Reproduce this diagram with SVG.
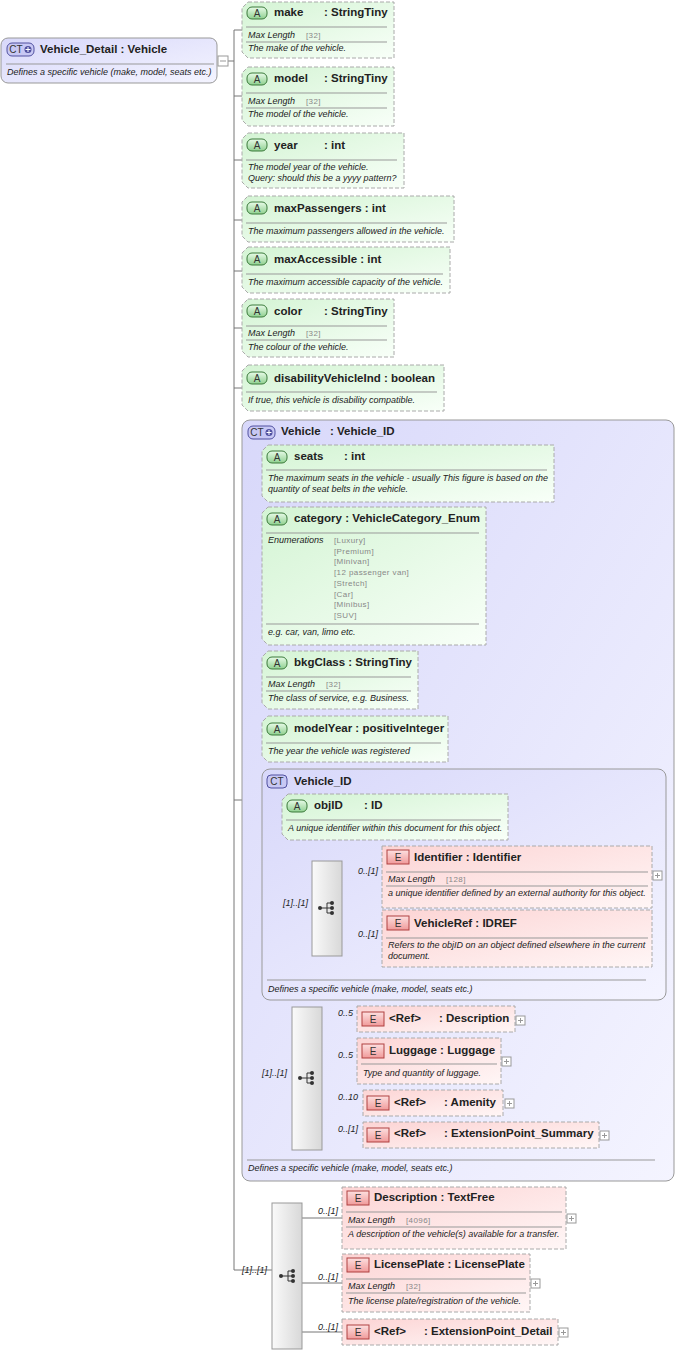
<svg xmlns="http://www.w3.org/2000/svg" width="679" height="1353" viewBox="0 0 679 1353">
<defs>
<linearGradient id="gA" x1="0" y1="0" x2="1" y2="1"><stop offset="0" stop-color="#d4f4d4"/><stop offset="1" stop-color="#f8fff8"/></linearGradient>
<linearGradient id="gE" x1="0" y1="0" x2="1" y2="1"><stop offset="0" stop-color="#fcd4d4"/><stop offset="1" stop-color="#fff6f6"/></linearGradient>
<linearGradient id="gC" x1="0" y1="0" x2="1" y2="1"><stop offset="0" stop-color="#d8d8fa"/><stop offset="1" stop-color="#f4f4ff"/></linearGradient>
<linearGradient id="gS" x1="0" y1="0" x2="1" y2="0"><stop offset="0" stop-color="#fafafa"/><stop offset="1" stop-color="#d8d8d8"/></linearGradient>
<linearGradient id="gB" x1="0" y1="0" x2="0" y2="1"><stop offset="0" stop-color="#e8fbe8"/><stop offset="1" stop-color="#8fd08f"/></linearGradient>
<linearGradient id="gBE" x1="0" y1="0" x2="0" y2="1"><stop offset="0" stop-color="#fde0e0"/><stop offset="1" stop-color="#f09a9a"/></linearGradient>
<g id="seqIcon"><line x1="-7" y1="0" x2="0" y2="0" stroke="#333"/><line x1="0" y1="-5" x2="0" y2="5" stroke="#333"/><line x1="0" y1="-5" x2="5" y2="-5" stroke="#333"/><line x1="0" y1="0" x2="5" y2="0" stroke="#333"/><line x1="0" y1="5" x2="5" y2="5" stroke="#333"/><circle cx="-7" cy="0" r="2" fill="#333"/><circle cx="5" cy="-5" r="2" fill="#333"/><circle cx="5" cy="0" r="2" fill="#333"/><circle cx="5" cy="5" r="2" fill="#333"/></g>
<g id="plus"><rect x="0" y="0" width="9" height="9" fill="#fff" stroke="#999"/><path d="M2 4.5H7M4.5 2V7" stroke="#999"/></g>
<g id="bA"><rect x="0" y="0" width="20" height="12" rx="5" fill="url(#gB)" stroke="#3a7a3a"/><text x="10" y="10" class="badge" text-anchor="middle">A</text></g>
<g id="bE"><rect x="0" y="0" width="22" height="14" fill="url(#gBE)" stroke="#b04040"/><text x="11" y="11" class="badge" text-anchor="middle">E</text></g>
<g id="bCT"><rect x="0" y="0" width="27" height="13" rx="5" fill="#c8c8f4" stroke="#5050a0"/><text x="9" y="10" class="badge" text-anchor="middle">CT</text><circle cx="21" cy="6.5" r="3.5" fill="#5050a0"/><path d="M18.5 6.5h5M21 4v5" stroke="#fff"/></g>
</defs>
<style>
text{font-family:"Liberation Sans",Arial,sans-serif;fill:#222}
.t{font-size:11.5px;font-weight:bold}
.d{font-size:9px;font-style:italic}
.k{font-size:9px;font-style:italic}
.v{font-size:8px;fill:#888;letter-spacing:0.4px}
.badge{font-size:10px;fill:#333}
.m{font-size:9px;font-style:italic}
.attr{fill:url(#gA);stroke:#aaa;stroke-dasharray:4 2}
.el{fill:url(#gE);stroke:#aaa;stroke-dasharray:4 2}
.sep{stroke:#999}
.ln{stroke:#777;fill:none}
.seq{fill:url(#gS);stroke:#999}
</style>

<g id="connectors" class="ln">
<path d="M228 61H234M234 30V1270M234 30H242M234 96H242M234 160H242M234 220H242M234 271H242M234 328H242M234 388H242M234 800H242M234 1270H272"/>
<path d="M252 474V1078M252 474H262M252 577H262M252 686H262M252 740H262M252 884H262M252 1078H292"/>
<path d="M262 884H272M272 817V908M272 817H282M272 908H312M342 875H382M342 940H382"/>
<path d="M322 1020H357M322 1061H357M322 1103H363M322 1135H363"/>
<path d="M302 1218H342M302 1283H342M302 1332H342"/>
</g>

<g id="root">
<rect x="1" y="38" width="216" height="45" rx="7" fill="url(#gC)" stroke="#999"/>
<use href="#bCT" x="7" y="43"/>
<text x="40" y="53" class="t">Vehicle_Detail : Vehicle</text>
<line x1="6" y1="64" x2="214" y2="64" class="sep"/>
<text x="7" y="75" class="d">Defines a specific vehicle (make, model, seats etc.)</text>
<rect x="218" y="56" width="10" height="10" fill="#fff" stroke="#999"/><path d="M220 61H226" stroke="#999"/>
</g>

<g id="make"><path class="attr" d="M248 2H394V58H248L242 52V8Z"/><use href="#bA" x="247" y="7"/><text x="274" y="16" class="t">make</text><text x="324" y="16" class="t">: StringTiny</text><line x1="246" y1="27" x2="387" y2="27" class="sep"/><text x="248" y="38" class="k">Max Length</text><text x="306" y="38" class="v">[32]</text><line x1="246" y1="42" x2="387" y2="42" class="sep"/><text x="248" y="51" class="d">The make of the vehicle.</text></g>

<g id="model"><path class="attr" d="M248 67H394V126H248L242 120V73Z"/><use href="#bA" x="247" y="73"/><text x="274" y="82" class="t">model</text><text x="324" y="82" class="t">: StringTiny</text><line x1="246" y1="93" x2="387" y2="93" class="sep"/><text x="248" y="104" class="k">Max Length</text><text x="306" y="104" class="v">[32]</text><line x1="246" y1="108" x2="387" y2="108" class="sep"/><text x="248" y="117" class="d">The model of the vehicle.</text></g>

<g id="year"><path class="attr" d="M248 133H404V188H248L242 182V139Z"/><use href="#bA" x="247" y="139"/><text x="274" y="149" class="t">year</text><text x="324" y="149" class="t">: int</text><line x1="246" y1="160" x2="397" y2="160" class="sep"/><text x="248" y="170" class="d">The model year of the vehicle.</text><text x="248" y="181" class="d">Query: should this be a yyyy pattern?</text></g>

<g id="maxPassengers"><path class="attr" d="M248 196H454V242H248L242 236V202Z"/><use href="#bA" x="247" y="202"/><text x="274" y="212" class="t">maxPassengers : int</text><line x1="246" y1="223" x2="447" y2="223" class="sep"/><text x="248" y="234" class="d">The maximum passengers allowed in  the vehicle.</text></g>

<g id="maxAccessible"><path class="attr" d="M248 247H450V293H248L242 287V253Z"/><use href="#bA" x="247" y="253"/><text x="274" y="263" class="t">maxAccessible : int</text><line x1="246" y1="274" x2="443" y2="274" class="sep"/><text x="248" y="285" class="d">The maximum accessible capacity of the vehicle.</text></g>

<g id="color"><path class="attr" d="M248 299H394V357H248L242 351V305Z"/><use href="#bA" x="247" y="305"/><text x="274" y="315" class="t">color</text><text x="324" y="315" class="t">: StringTiny</text><line x1="246" y1="326" x2="387" y2="326" class="sep"/><text x="248" y="336" class="k">Max Length</text><text x="306" y="336" class="v">[32]</text><line x1="246" y1="340" x2="387" y2="340" class="sep"/><text x="248" y="350" class="d">The colour of the vehicle.</text></g>

<g id="disabilityVehicleInd"><path class="attr" d="M248 365H444V411H248L242 405V371Z"/><use href="#bA" x="247" y="372"/><text x="274" y="382" class="t">disabilityVehicleInd : boolean</text><line x1="246" y1="392" x2="437" y2="392" class="sep"/><text x="248" y="403" class="d">If true, this vehicle is disability compatible.</text></g>

<g id="Vehicle">
<rect x="242" y="420" width="432" height="761" rx="8" fill="url(#gC)" stroke="#999"/>
<use href="#bCT" x="248" y="426"/>
<text x="281" y="435" class="t">Vehicle</text><text x="330" y="435" class="t">: Vehicle_ID</text>
<line x1="247" y1="1160" x2="655" y2="1160" class="sep"/>
<text x="248" y="1171" class="d">Defines a specific vehicle (make, model, seats etc.)</text>
</g>

<g id="seats"><path class="attr" d="M268 445H554V502H268L262 496V451Z"/><use href="#bA" x="267" y="451"/><text x="294" y="460" class="t">seats</text><text x="344" y="460" class="t">: int</text><line x1="266" y1="470" x2="547" y2="470" class="sep"/><text x="268" y="481" class="d">The maximum seats in the vehicle - usually This figure is based on the</text><text x="268" y="492" class="d">quantity of seat belts in the vehicle.</text></g>

<g id="category"><path class="attr" d="M268 507H486V645H268L262 639V513Z"/><use href="#bA" x="267" y="513"/><text x="294" y="522" class="t">category : VehicleCategory_Enum</text><line x1="266" y1="533" x2="479" y2="533" class="sep"/><text x="268" y="543" class="k">Enumerations</text>
<text x="334" y="543" class="v">[Luxury]</text><text x="334" y="554" class="v">[Premium]</text><text x="334" y="564" class="v">[Minivan]</text><text x="334" y="575" class="v">[12 passenger van]</text><text x="334" y="586" class="v">[Stretch]</text><text x="334" y="597" class="v">[Car]</text><text x="334" y="607" class="v">[Minibus]</text><text x="334" y="618" class="v">[SUV]</text>
<line x1="266" y1="624" x2="479" y2="624" class="sep"/><text x="268" y="635" class="d">e.g. car, van, limo etc.</text></g>

<g id="bkgClass"><path class="attr" d="M268 651H418V709H268L262 703V657Z"/><use href="#bA" x="267" y="657"/><text x="294" y="666" class="t">bkgClass : StringTiny</text><line x1="266" y1="677" x2="411" y2="677" class="sep"/><text x="268" y="687" class="k">Max Length</text><text x="326" y="687" class="v">[32]</text><line x1="266" y1="691" x2="411" y2="691" class="sep"/><text x="268" y="701" class="d">The class of service, e.g. Business.</text></g>

<g id="modelYear"><path class="attr" d="M268 716H448V762H268L262 756V722Z"/><use href="#bA" x="267" y="723"/><text x="294" y="732" class="t">modelYear : positiveInteger</text><line x1="266" y1="743" x2="441" y2="743" class="sep"/><text x="268" y="754" class="d">The year the vehicle was registered</text></g>

<g id="Vehicle_ID">
<rect x="262" y="769" width="404" height="231" rx="8" fill="url(#gC)" stroke="#999"/>
<rect x="267" y="775" width="20" height="13" rx="4" fill="#c8c8f4" stroke="#5050a0"/><text x="277" y="785" class="badge" text-anchor="middle">CT</text>
<text x="294" y="785" class="t">Vehicle_ID</text>
<line x1="267" y1="980" x2="646" y2="980" class="sep"/>
<text x="268" y="992" class="d">Defines a specific vehicle (make, model, seats etc.)</text>
</g>

<g id="objID"><path class="attr" d="M288 794H508V840H288L282 834V800Z"/><use href="#bA" x="287" y="800"/><text x="314" y="809" class="t">objID</text><text x="364" y="809" class="t">: ID</text><line x1="286" y1="820" x2="501" y2="820" class="sep"/><text x="288" y="831" class="d">A unique identifier within this document for this object.</text></g>

<g id="seq1"><rect x="312" y="861" width="30" height="95" class="seq"/><use href="#seqIcon" x="327" y="908"/><text x="283" y="906" class="m">[1]..[1]</text></g>

<g id="Identifier"><rect x="382" y="846" width="270" height="62" class="el"/><use href="#bE" x="387" y="850"/><text x="414" y="861" class="t">Identifier : Identifier</text><line x1="386" y1="872" x2="648" y2="872" class="sep"/><text x="388" y="882" class="k">Max Length</text><text x="446" y="882" class="v">[128]</text><line x1="386" y1="886" x2="648" y2="886" class="sep"/><text x="388" y="896" class="d">a unique identifier defined by an external authority for this object.</text><use href="#plus" x="653" y="871"/><text x="358" y="874" class="m">0..[1]</text></g>

<g id="VehicleRef"><rect x="382" y="910" width="270" height="57" class="el"/><use href="#bE" x="387" y="916"/><text x="414" y="927" class="t">VehicleRef : IDREF</text><line x1="386" y1="938" x2="648" y2="938" class="sep"/><text x="388" y="948" class="d">Refers to the objID on an object defined elsewhere in the current</text><text x="388" y="959" class="d">document.</text><text x="358" y="937" class="m">0..[1]</text></g>

<g id="seq2"><rect x="292" y="1007" width="30" height="143" class="seq"/><use href="#seqIcon" x="307" y="1078"/><text x="262" y="1076" class="m">[1]..[1]</text></g>

<g id="RefDescription"><rect x="357" y="1006" width="158" height="26" class="el"/><use href="#bE" x="362" y="1012"/><text x="389" y="1022" class="t">&lt;Ref&gt;</text><text x="439" y="1022" class="t">: Description</text><use href="#plus" x="516" y="1016"/><text x="338" y="1016" class="m">0..5</text></g>

<g id="Luggage"><rect x="357" y="1038" width="144" height="46" class="el"/><use href="#bE" x="362" y="1044"/><text x="389" y="1054" class="t">Luggage : Luggage</text><line x1="361" y1="1064" x2="497" y2="1064" class="sep"/><text x="363" y="1076" class="d">Type and quantity of luggage.</text><use href="#plus" x="502" y="1057"/><text x="338" y="1058" class="m">0..5</text></g>

<g id="RefAmenity"><rect x="363" y="1090" width="140" height="26" class="el"/><use href="#bE" x="367" y="1096"/><text x="394" y="1106" class="t">&lt;Ref&gt;</text><text x="444" y="1106" class="t">: Amenity</text><use href="#plus" x="505" y="1099"/><text x="338" y="1100" class="m">0..10</text></g>

<g id="RefExtensionPoint_Summary"><rect x="363" y="1122" width="236" height="26" class="el"/><use href="#bE" x="367" y="1128"/><text x="394" y="1137" class="t">&lt;Ref&gt;</text><text x="444" y="1137" class="t">: ExtensionPoint_Summary</text><use href="#plus" x="600" y="1131"/><text x="338" y="1132" class="m">0..[1]</text></g>

<g id="seq3"><rect x="272" y="1203" width="30" height="146" class="seq"/><use href="#seqIcon" x="288" y="1276"/><text x="242" y="1273" class="m">[1]..[1]</text></g>

<g id="Description"><rect x="342" y="1187" width="224" height="62" class="el"/><use href="#bE" x="347" y="1191"/><text x="374" y="1201" class="t">Description : TextFree</text><line x1="346" y1="1212" x2="562" y2="1212" class="sep"/><text x="348" y="1223" class="k">Max Length</text><text x="406" y="1223" class="v">[4096]</text><line x1="346" y1="1227" x2="562" y2="1227" class="sep"/><text x="348" y="1237" class="d">A description of the vehicle(s) available for a transfer.</text><use href="#plus" x="567" y="1214"/><text x="318" y="1214" class="m">0..[1]</text></g>

<g id="LicensePlate"><rect x="342" y="1254" width="188" height="58" class="el"/><use href="#bE" x="347" y="1258"/><text x="374" y="1268" class="t">LicensePlate : LicensePlate</text><line x1="346" y1="1279" x2="526" y2="1279" class="sep"/><text x="348" y="1289" class="k">Max Length</text><text x="406" y="1289" class="v">[32]</text><line x1="346" y1="1293" x2="526" y2="1293" class="sep"/><text x="348" y="1304" class="d">The license plate/registration of the vehicle.</text><use href="#plus" x="531" y="1279"/><text x="318" y="1280" class="m">0..[1]</text></g>

<g id="RefExtensionPoint_Detail"><rect x="342" y="1319" width="216" height="26" class="el"/><use href="#bE" x="347" y="1325"/><text x="374" y="1335" class="t">&lt;Ref&gt;</text><text x="424" y="1335" class="t">: ExtensionPoint_Detail</text><use href="#plus" x="559" y="1328"/><text x="318" y="1330" class="m">0..[1]</text></g>
</svg>
